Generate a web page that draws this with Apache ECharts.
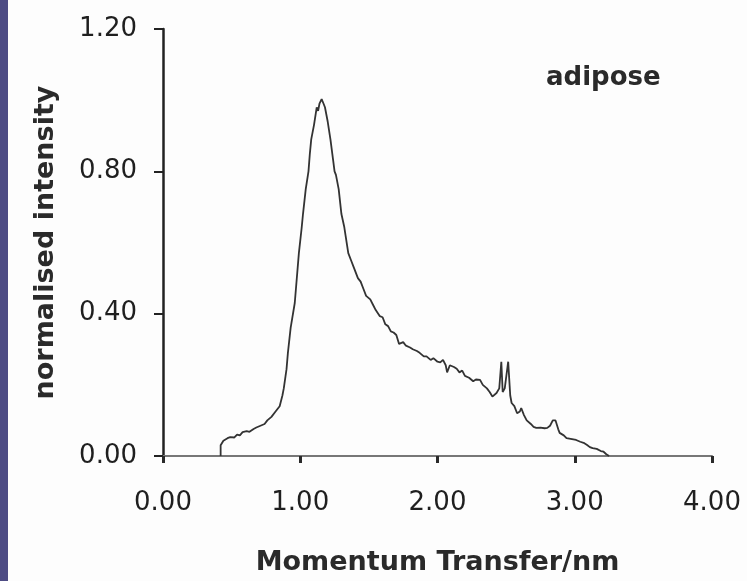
<!DOCTYPE html>
<html>
<head>
<meta charset="utf-8">
<script src="https://cdn.jsdelivr.net/npm/echarts@6/dist/echarts.min.js"></script>
<style>
  html, body { margin: 0; padding: 0; background: #fdfdfd; }
  #chart { width: 747px; height: 581px; }
</style>
</head>
<body>
<div id="chart"></div>
<script>
// momentum transfer (nm^-1) and normalised intensity
const momentum = [
  0.42, 0.42, 0.44, 0.47, 0.49, 0.52, 0.54, 0.56, 0.58, 0.61,
  0.63, 0.66, 0.68, 0.71, 0.74, 0.76, 0.79, 0.82, 0.85, 0.87,
  0.88, 0.90, 0.91, 0.93, 0.96, 0.99, 1.01, 1.02, 1.04, 1.06,
  1.07, 1.08, 1.10, 1.12, 1.13, 1.14, 1.156, 1.17, 1.18, 1.20,
  1.22, 1.24, 1.25, 1.26, 1.28, 1.30, 1.32, 1.33, 1.35, 1.37,
  1.39, 1.42, 1.44, 1.46, 1.48, 1.51, 1.53, 1.55, 1.58, 1.60,
  1.62, 1.64, 1.66, 1.68, 1.70, 1.72, 1.75, 1.77, 1.80, 1.82,
  1.85, 1.87, 1.90, 1.92, 1.95, 1.97, 2.00, 2.02, 2.04, 2.06,
  2.07, 2.09, 2.12, 2.14, 2.16, 2.18, 2.20, 2.23, 2.26, 2.28,
  2.31, 2.33, 2.36, 2.38, 2.40, 2.43, 2.45, 2.465, 2.475, 2.49,
  2.515, 2.53, 2.54, 2.56, 2.58, 2.60, 2.61, 2.63, 2.65, 2.68,
  2.70, 2.72, 2.75, 2.78, 2.80, 2.82, 2.84, 2.86, 2.88, 2.89,
  2.92, 2.94, 2.97, 3.01, 3.04, 3.07, 3.09, 3.11, 3.13, 3.16,
  3.19, 3.21, 3.23, 3.25
];
const intensity = [
  0.000, 0.030, 0.043, 0.050, 0.053, 0.052, 0.060, 0.058, 0.067, 0.070,
  0.068, 0.076, 0.080, 0.085, 0.090, 0.100, 0.110, 0.125, 0.140, 0.170,
  0.190, 0.244, 0.290, 0.360, 0.430, 0.570, 0.640, 0.680, 0.750, 0.800,
  0.850, 0.890, 0.930, 0.980, 0.970, 0.990, 1.003, 0.990, 0.980, 0.940,
  0.890, 0.830, 0.800, 0.790, 0.750, 0.680, 0.645, 0.620, 0.570, 0.550,
  0.530, 0.500, 0.490, 0.470, 0.450, 0.440, 0.425, 0.410, 0.393, 0.390,
  0.370, 0.365, 0.350, 0.347, 0.340, 0.315, 0.320, 0.310, 0.305, 0.300,
  0.295, 0.290, 0.280, 0.280, 0.270, 0.275, 0.265, 0.263, 0.270, 0.255,
  0.235, 0.255, 0.250, 0.245, 0.235, 0.240, 0.225, 0.220, 0.210, 0.215,
  0.214, 0.200, 0.190, 0.180, 0.167, 0.177, 0.190, 0.265, 0.180, 0.190,
  0.265, 0.170, 0.149, 0.140, 0.120, 0.125, 0.135, 0.115, 0.100, 0.090,
  0.082, 0.079, 0.080, 0.078, 0.079, 0.085, 0.100, 0.100, 0.075, 0.065,
  0.058, 0.050, 0.048, 0.045, 0.040, 0.036, 0.031, 0.025, 0.022, 0.020,
  0.014, 0.012, 0.005, 0.000
];
const sampleName = 'adipose';

const chart = echarts.init(document.getElementById('chart'));

const labelFont = 'DejaVu Sans';

const option = {
  backgroundColor: '#fdfdfd',
  animation: false,
  title: {
    text: sampleName,
    left: 541,
    top: 60,
    textStyle: { fontFamily: labelFont, fontSize: 26, fontWeight: 'bold', color: '#2a2a2a' }
  },
  graphic: [
    {
      type: 'rect',
      left: 0,
      top: 0,
      shape: { width: 8, height: 581 },
      style: { fill: '#4e4c84' }
    }
  ],
  grid: { left: 163, right: 35, top: 29, bottom: 125 },
  xAxis: {
    type: 'value',
    min: 0,
    max: 4,
    interval: 1,
    name: 'Momentum Transfer/nm',
    nameLocation: 'middle',
    nameGap: 93,
    nameTextStyle: { fontFamily: labelFont, fontSize: 27, fontWeight: 'bold', color: '#2a2a2a' },
    axisLine: { lineStyle: { color: '#777', width: 2 } },
    axisTick: { length: 7, lineStyle: { color: '#2a2a2a', width: 3 } },
    axisLabel: {
      margin: 34,
      fontFamily: labelFont,
      fontSize: 26,
      color: '#1f1f1f',
      formatter: v => v.toFixed(2)
    },
    splitLine: { show: false }
  },
  yAxis: {
    type: 'value',
    min: 0,
    max: 1.2,
    interval: 0.4,
    name: 'normalised intensity',
    nameLocation: 'middle',
    nameGap: 104,
    nameTextStyle: { fontFamily: labelFont, fontSize: 27, fontWeight: 'bold', color: '#2a2a2a' },
    axisLine: { show: true, lineStyle: { color: '#222', width: 2.5 } },
    axisTick: { show: true, length: 9, lineStyle: { color: '#222', width: 2 } },
    axisLabel: {
      margin: 26,
      fontFamily: labelFont,
      fontSize: 26,
      color: '#1f1f1f',
      formatter: v => v.toFixed(2)
    },
    splitLine: { show: false }
  },
  series: [
    {
      type: 'line',
      data: momentum.map((x, i) => [x, intensity[i]]),
      showSymbol: false,
      lineStyle: { color: '#333', width: 1.8 }
    }
  ]
};

chart.setOption(option);
</script>
</body>
</html>
